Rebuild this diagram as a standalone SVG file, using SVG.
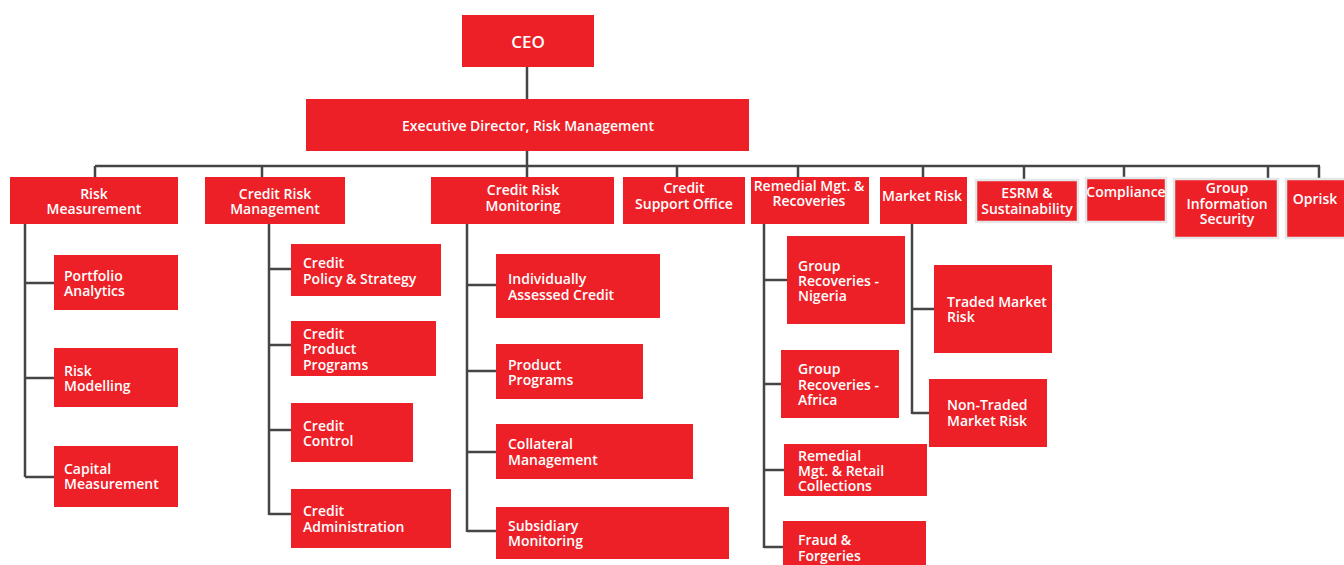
<svg xmlns="http://www.w3.org/2000/svg" width="1344" height="565" viewBox="0 0 1344 565">
<style>
.b{fill:#ED2027}
.g{fill:#ED2027;stroke:#E4E6E8;stroke-width:2.5}
text{fill:#fff;font-family:"Open Sans","Noto Sans",sans-serif;font-weight:600;font-size:14px}
.c{text-anchor:middle}
.ln{fill:none;stroke:#454545;stroke-width:2.5}
</style>
<rect width="1344" height="565" fill="#fff"/>
<g id="connectors" class="ln">
<path d="M527 67V99M527 151V166M95 166H1320M95 166V177M262 166V177M527 166V177M677 166V177M798 166V177M923 166V177M1024 166V180M1124 166V179M1268 166V180M1319 166V179"/>
<path d="M25 224V477M25 283H54M25 378H54M25 477H54"/>
<path d="M269 224V515M269 269H291M269 345H291M269 430H291M269 514H291"/>
<path d="M467 224V532M467 285H496M467 371H496M467 452H496M467 531H496"/>
<path d="M764 224V548M764 280H787M764 384H781M764 470H784M764 547H783"/>
<path d="M912 224V414M912 309H934M912 413H929"/>
</g>
<g id="ceo"><rect class="b" x="462" y="15" width="132" height="52"/><text class="c" x="528" y="48" style="font-size:17px">CEO</text></g>
<g id="exec"><rect class="b" x="306" y="99" width="443" height="52"/><text class="c" x="528" y="131">Executive Director, Risk Management</text></g>
<g id="risk-measurement"><rect class="b" x="10" y="177" width="168" height="47"/><text class="c" y="199"><tspan x="94">Risk</tspan><tspan x="94" dy="15">Measurement</tspan></text></g>
<g id="credit-risk-management"><rect class="b" x="205" y="177" width="140" height="47"/><text class="c" y="199"><tspan x="275">Credit Risk</tspan><tspan x="275" dy="15">Management</tspan></text></g>
<g id="credit-risk-monitoring"><rect class="b" x="431" y="177" width="183" height="47"/><text class="c" y="195"><tspan x="523">Credit Risk</tspan><tspan x="523" dy="16">Monitoring</tspan></text></g>
<g id="credit-support-office"><rect class="b" x="623" y="177" width="122" height="47"/><text class="c" y="193"><tspan x="684">Credit</tspan><tspan x="684" dy="16">Support Office</tspan></text></g>
<g id="remedial"><rect class="b" x="751" y="177" width="118" height="47"/><text class="c" y="191"><tspan x="809">Remedial Mgt. &amp;</tspan><tspan x="809" dy="15">Recoveries</tspan></text></g>
<g id="market-risk"><rect class="b" x="880" y="177" width="87" height="47"/><text class="c" x="922" y="201">Market Risk</text></g>
<g id="esrm"><rect class="g" x="976" y="180" width="102" height="42"/><text class="c" y="198"><tspan x="1027">ESRM &amp;</tspan><tspan x="1027" dy="16">Sustainability</tspan></text></g>
<g id="compliance"><rect class="g" x="1086" y="178" width="80" height="44"/><text class="c" x="1126" y="197">Compliance</text></g>
<g id="group-info-security"><rect class="g" x="1174" y="179" width="104" height="59"/><text class="c" y="193"><tspan x="1227">Group</tspan><tspan x="1227" dy="16">Information</tspan><tspan x="1227" dy="15">Security</tspan></text></g>
<g id="oprisk"><rect class="g" x="1286" y="179" width="62" height="59"/><text class="c" x="1315" y="204">Oprisk</text></g>
<g id="portfolio-analytics"><rect class="b" x="54" y="255" width="124" height="55"/><text y="281"><tspan x="64">Portfolio</tspan><tspan x="64" dy="15">Analytics</tspan></text></g>
<g id="risk-modelling"><rect class="b" x="54" y="348" width="124" height="59"/><text y="376"><tspan x="64">Risk</tspan><tspan x="64" dy="15">Modelling</tspan></text></g>
<g id="capital-measurement"><rect class="b" x="54" y="446" width="124" height="61"/><text y="474"><tspan x="64">Capital</tspan><tspan x="64" dy="15">Measurement</tspan></text></g>
<g id="credit-policy"><rect class="b" x="291" y="244" width="150" height="52"/><text y="268"><tspan x="303">Credit</tspan><tspan x="303" dy="16">Policy &amp; Strategy</tspan></text></g>
<g id="credit-product-programs"><rect class="b" x="291" y="321" width="145" height="55"/><text y="339"><tspan x="303">Credit</tspan><tspan x="303" dy="15">Product</tspan><tspan x="303" dy="16">Programs</tspan></text></g>
<g id="credit-control"><rect class="b" x="291" y="403" width="122" height="59"/><text y="431"><tspan x="303">Credit</tspan><tspan x="303" dy="15">Control</tspan></text></g>
<g id="credit-administration"><rect class="b" x="291" y="489" width="160" height="59"/><text y="516"><tspan x="303">Credit</tspan><tspan x="303" dy="16">Administration</tspan></text></g>
<g id="individually-assessed"><rect class="b" x="496" y="254" width="164" height="64"/><text y="284"><tspan x="508">Individually</tspan><tspan x="508" dy="16">Assessed Credit</tspan></text></g>
<g id="product-programs"><rect class="b" x="496" y="344" width="147" height="55"/><text y="370"><tspan x="508">Product</tspan><tspan x="508" dy="15">Programs</tspan></text></g>
<g id="collateral-management"><rect class="b" x="496" y="424" width="197" height="55"/><text y="449"><tspan x="508">Collateral</tspan><tspan x="508" dy="16">Management</tspan></text></g>
<g id="subsidiary-monitoring"><rect class="b" x="496" y="507" width="233" height="52"/><text y="531"><tspan x="508">Subsidiary</tspan><tspan x="508" dy="15">Monitoring</tspan></text></g>
<g id="group-recoveries-nigeria"><rect class="b" x="787" y="236" width="118" height="88"/><text y="271"><tspan x="798">Group</tspan><tspan x="798" dy="15">Recoveries -</tspan><tspan x="798" dy="15">Nigeria</tspan></text></g>
<g id="group-recoveries-africa"><rect class="b" x="781" y="350" width="118" height="68"/><text y="374"><tspan x="798">Group</tspan><tspan x="798" dy="16">Recoveries -</tspan><tspan x="798" dy="15">Africa</tspan></text></g>
<g id="remedial-retail"><rect class="b" x="784" y="444" width="143" height="52"/><text y="461"><tspan x="798">Remedial</tspan><tspan x="798" dy="15">Mgt. &amp; Retail</tspan><tspan x="798" dy="15">Collections</tspan></text></g>
<g id="fraud-forgeries"><rect class="b" x="783" y="521" width="143" height="44"/><text y="545"><tspan x="798">Fraud &amp;</tspan><tspan x="798" dy="16">Forgeries</tspan></text></g>
<g id="traded-market-risk"><rect class="b" x="934" y="265" width="118" height="88"/><text y="307"><tspan x="947">Traded Market</tspan><tspan x="947" dy="15">Risk</tspan></text></g>
<g id="non-traded-market-risk"><rect class="b" x="929" y="379" width="118" height="68"/><text y="410"><tspan x="947">Non-Traded</tspan><tspan x="947" dy="16">Market Risk</tspan></text></g>
</svg>
